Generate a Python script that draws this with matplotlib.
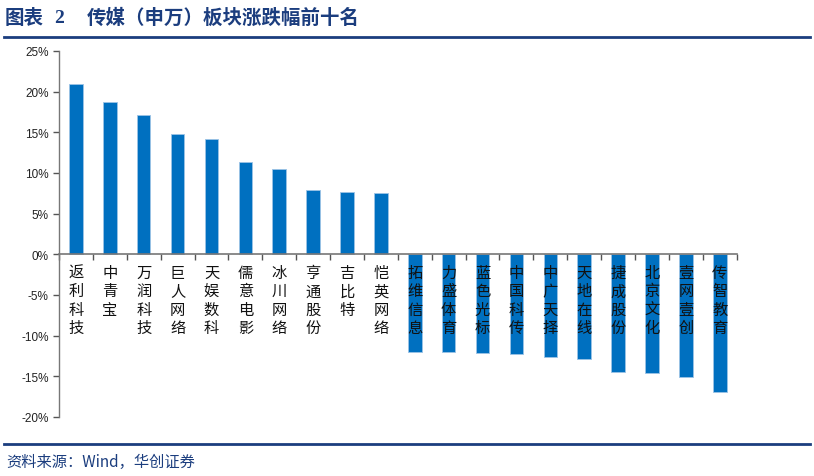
import matplotlib
matplotlib.use('Agg')
import matplotlib.pyplot as plt
from matplotlib.lines import Line2D
from matplotlib.ticker import FuncFormatter, FixedLocator

plt.rcParams['font.family'] = ['Noto Sans CJK SC', 'DejaVu Sans']

names = ['返利科技', '中青宝', '万润科技', '巨人网络', '天娱数科', '儒意电影', '冰川网络',
         '亨通股份', '吉比特', '恺英网络', '拓维信息', '力盛体育', '蓝色光标', '中国科传',
         '中广天择', '天地在线', '捷成股份', '北京文化', '壹网壹创', '传智教育']
changes = [21.0, 18.7, 17.1, 14.8, 14.2, 11.3, 10.5, 7.9, 7.7, 7.6,
           -12.0, -12.0, -12.1, -12.3, -12.6, -12.9, -14.5, -14.6, -15.1, -16.9]
yticks = [-20, -15, -10, -5, 0, 5, 10, 15, 20, 25]

navy = '#1b3d7e'
fig = plt.figure(figsize=(8.14, 4.77), dpi=100)
ax = fig.add_axes([0.0725, 0.1237, 0.8325, 0.7673])

x = list(range(len(names)))
ax.bar(x, changes, width=0.4, color='#0070C0', edgecolor='#9cc3e6', linewidth=0.6, zorder=2)

ax.set_xlim(-0.5, len(names) - 0.5)
ax.set_ylim(-20, 25)
ax.set_yticks(yticks)
ax.yaxis.set_major_formatter(FuncFormatter(lambda v, p: f'{int(v)}%'))
ax.xaxis.set_major_locator(FixedLocator([i - 0.5 for i in range(len(names) + 1)]))
ax.set_xticklabels([])
ax.tick_params(axis='x', direction='out', length=4, color='#555555', width=1)
ax.tick_params(axis='y', direction='out', length=4, color='#555555', width=1,
               labelsize=8.5, labelcolor='#222222')
for lab in ax.get_yticklabels():
    lab.set_family(['Liberation Sans Narrow', 'Liberation Sans', 'DejaVu Sans'])

ax.spines['top'].set_visible(False)
ax.spines['right'].set_visible(False)
ax.spines['bottom'].set_position(('data', 0))
ax.spines['bottom'].set_color('#777777')
ax.spines['left'].set_color('#777777')
ax.spines['bottom'].set_linewidth(1.2)
ax.spines['left'].set_linewidth(1.0)

for i, n in enumerate(names):
    ax.annotate('\n'.join(n), xy=(i, 0), xytext=(0, -7), textcoords='offset points',
                ha='center', va='top', fontsize=11, linespacing=1.1, color='#111111', zorder=5)

fig.text(0.006, 0.962, '图表', fontsize=14, fontweight='bold', color=navy, va='center', ha='left')
fig.text(0.066, 0.962, '2', fontsize=14, fontweight='bold', color=navy, va='center', ha='left',
         family=['Liberation Serif', 'DejaVu Serif'])
fig.text(0.106, 0.962, '传媒（申万）板块涨跌幅前十名', fontsize=14, fontweight='bold',
         color=navy, va='center', ha='left')
fig.add_artist(Line2D([0.005, 0.995], [0.920, 0.920], color=navy, linewidth=2))
fig.add_artist(Line2D([0.005, 0.995], [0.067, 0.067], color=navy, linewidth=2))
fig.text(0.008, 0.030, '资料来源：Wind，华创证券', fontsize=11, color=navy, style='italic',
         va='center', ha='left')

fig.savefig('out.png', dpi=100)
